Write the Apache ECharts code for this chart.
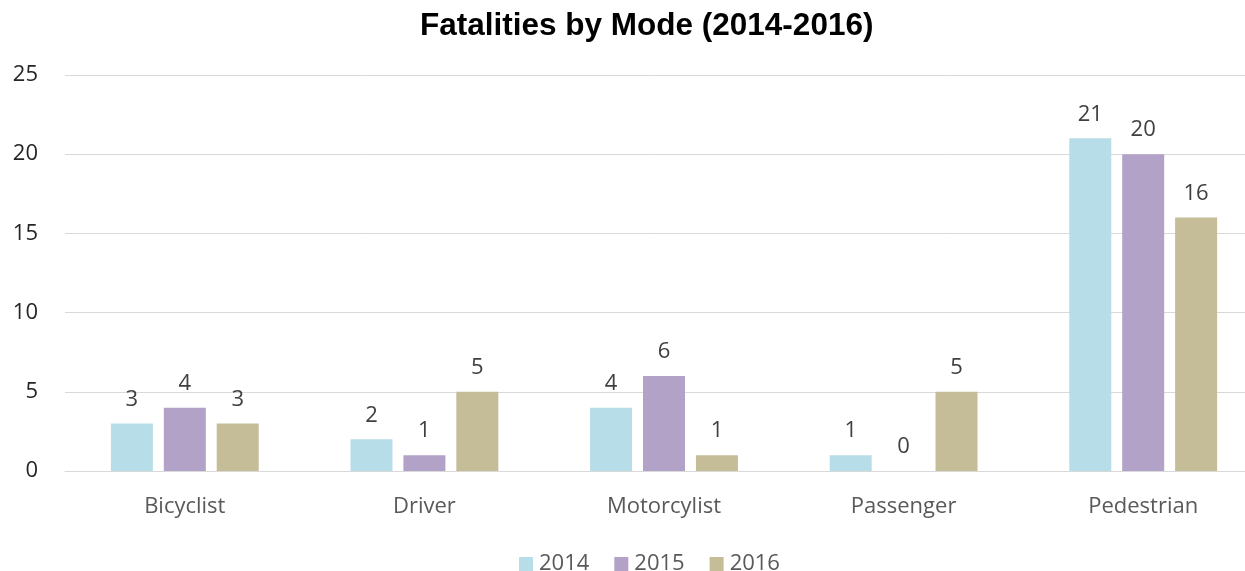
<!DOCTYPE html>
<html>
<head>
<meta charset="utf-8">
<script src="https://cdn.jsdelivr.net/npm/echarts@6/dist/echarts.min.js"></script>
<style>html,body{margin:0;padding:0;background:#fff;}#c{width:1245px;height:571px;}</style>
</head>
<body>
<div id="c"></div>
<script>
const categories = ['Bicyclist', 'Driver', 'Motorcylist', 'Passenger', 'Pedestrian'];
const years = ['2014', '2015', '2016'];
const values2014 = [3, 2, 4, 1, 21];
const values2015 = [4, 1, 6, 0, 20];
const values2016 = [3, 5, 1, 5, 16];
const yTicks = [0, 5, 10, 15, 20, 25];
const colors = ['#B7DDE8', '#B3A2C7', '#C4BD97'];

const chart = echarts.init(document.getElementById('c'));
const font = '"Open Sans", "Noto Sans", sans-serif';
const seriesData = [values2014, values2015, values2016];
chart.setOption({
  animation: false,
  title: {
    text: 'Fatalities by Mode (2014-2016)',
    left: 415, top: 5,
    textStyle: { fontFamily: '"Liberation Sans", Arial, sans-serif', fontWeight: 'bold', fontSize: 31.5, color: '#000' }
  },
  legend: {
    data: years,
    left: 514, top: 548,
    itemWidth: 14, itemHeight: 14, itemGap: 25,
    icon: 'rect',
    textStyle: { fontFamily: font, fontSize: 22, color: '#595959', padding: [0, 0, 0, 1] }
  },
  grid: { left: 65, top: 75, width: 1198, height: 396, outerBoundsMode: 'none' },
  xAxis: {
    type: 'category',
    data: categories,
    axisLine: { lineStyle: { color: '#d9d9d9', width: 1 } },
    axisTick: { show: false },
    axisLabel: { fontFamily: font, fontSize: 22, color: '#595959', margin: 25 }
  },
  yAxis: {
    type: 'value', min: yTicks[0], max: yTicks[yTicks.length - 1], interval: 5,
    axisLine: { show: false },
    axisTick: { show: false },
    splitLine: { lineStyle: { color: '#d9d9d9', width: 1 } },
    axisLabel: { fontFamily: font, fontSize: 22, color: '#262626', margin: 27 }
  },
  series: years.map((y, i) => ({
    name: y,
    type: 'bar',
    data: seriesData[i],
    barWidth: 42,
    barGap: '26%',
    itemStyle: { color: colors[i] },
    label: { show: true, position: 'top', distance: 13, fontFamily: font, fontSize: 22, color: '#404040' }
  }))
});
</script>
</body>
</html>
